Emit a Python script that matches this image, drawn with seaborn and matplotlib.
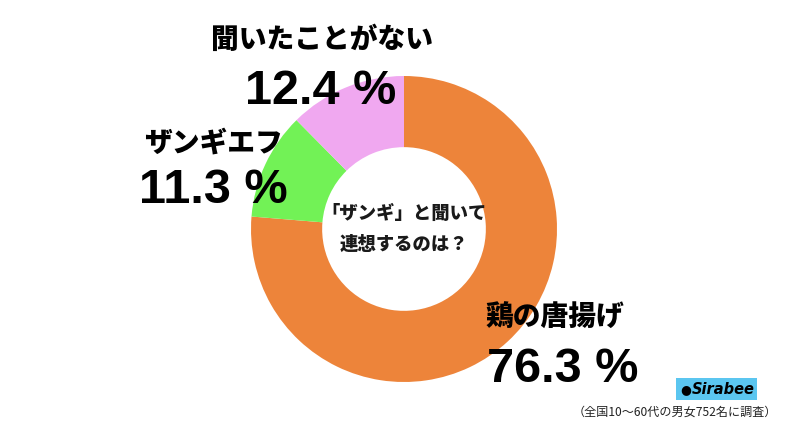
import matplotlib
matplotlib.use("Agg")
import matplotlib.pyplot as plt
import seaborn as sns
from matplotlib.patches import Rectangle

sns.set_theme(style="white")
plt.rcParams['font.family'] = ['Noto Sans CJK JP', 'DejaVu Sans']

categories = ["鶏の唐揚げ", "ザンギエフ", "聞いたことがない"]
values = [76.3, 11.3, 12.4]
value_labels = ["76.3 %", "11.3 %", "12.4 %"]
colors = ["#ED843A", "#72F256", "#F0A8F0"]
center_text = "「ザンギ」と聞いて\n連想するのは？"
footnote = "（全国10～60代の男女752名に調査）"
logo_text = "Sirabee"

W, H = 800, 432
fig = plt.figure(figsize=(W / 100, H / 100), dpi=100)
fig.patch.set_facecolor("white")

cx, cy, r = 404, 229, 153
ax = fig.add_axes([(cx - r) / W, (H - cy - r) / H, 2 * r / W, 2 * r / H])
ax.pie(values, colors=colors, startangle=90, counterclock=False,
       radius=1.0, wedgeprops=dict(width=0.465, linewidth=0))
ax.set_xlim(-1, 1)
ax.set_ylim(-1, 1)
ax.set_aspect("equal")
ax.axis("off")

ax.text(0, 0, center_text, ha="center", va="center", fontsize=13.2,
        fontweight="black", linespacing=1.85, color="#1a1a1a")

def px(x, y):
    return x / W, 1 - y / H

num_family = ['Liberation Sans', 'DejaVu Sans']
cat_pos = [(555, 318), (213, 143), (322, 40)]
num_pos = [(563, 370), (213, 190), (321, 92)]
for cat, lab, cp, npos in zip(categories, value_labels, cat_pos, num_pos):
    fig.text(*px(*cp), cat, ha="center", va="center", fontsize=20,
             fontweight="black", color="black")
    fig.text(*px(*npos), lab, ha="center", va="center", fontsize=35,
             fontweight="bold", color="black", family=num_family)

# logo
lx0, ly0, lx1, ly1 = 676, 378, 757, 400
fig.patches.append(Rectangle(px(lx0, ly1), (lx1 - lx0) / W, (ly1 - ly0) / H,
                             transform=fig.transFigure, facecolor="#5BC6F0",
                             edgecolor="none"))
fig.text(*px(723, 389.5), logo_text, ha="center", va="center", fontsize=10.5,
         fontweight="bold", fontstyle="italic", color="black",
         family=['DejaVu Sans'])
fig.text(*px(686, 389.5), "\u25CF", ha="center", va="center", fontsize=9,
         color="black", family=['DejaVu Sans'])

fig.text(*px(777, 412), footnote, ha="right", va="center", fontsize=8.7,
         color="#222222")

fig.savefig("out.png", dpi=100, facecolor="white")
